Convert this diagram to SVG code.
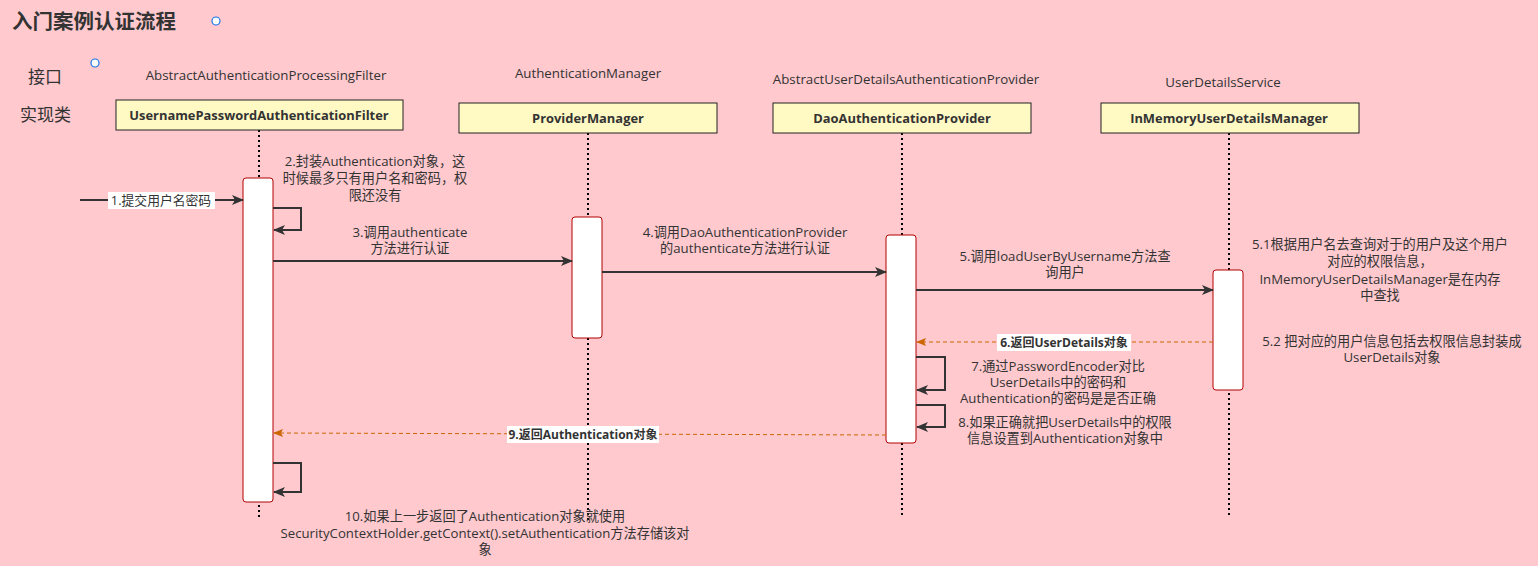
<svg xmlns="http://www.w3.org/2000/svg" width="1538" height="566" viewBox="0 0 1538 566">
<defs>
<marker id="ah" viewBox="0 0 12 10" refX="11" refY="5" markerWidth="12" markerHeight="10" markerUnits="userSpaceOnUse" orient="auto">
<path d="M0,0 L12,5 L0,10 L3,5 Z" fill="#333"/>
</marker>
<marker id="ahr" viewBox="0 0 10 8" refX="9" refY="4" markerWidth="10" markerHeight="8" markerUnits="userSpaceOnUse" orient="auto">
<path d="M0,0 L10,4 L0,8 L2,4 Z" fill="#cc6600"/>
</marker>
</defs>
<style>
text{font-family:"Open Sans","Noto Sans CJK SC",sans-serif;fill:#333}
.t{font-size:13.2px;text-anchor:middle}
.h{font-size:13.3px;text-anchor:middle}
.b{font-size:12.9px;font-weight:bold;text-anchor:middle}
.box{fill:#fff9c4;stroke:#222;stroke-width:1}
.life{stroke:#000;stroke-width:2;stroke-dasharray:2 3;fill:none}
.act{fill:#fff;stroke:#b20000;stroke-width:1}
.msg{stroke:#333;stroke-width:2;fill:none;marker-end:url(#ah)}
.ret{stroke:#cc6600;stroke-width:1;stroke-dasharray:4 3;fill:none;marker-end:url(#ahr)}
.lbg{fill:#fff}
</style>
<rect width="1538" height="566" fill="#ffc9ce"/>
<text x="12" y="29" style="font-size:20.5px;font-weight:bold">入门案例认证流程</text>
<circle cx="216" cy="21" r="4" fill="#fff" stroke="#1a73e8" stroke-width="1.2"/>
<circle cx="95" cy="63" r="4" fill="#fff" stroke="#1a73e8" stroke-width="1.2"/>
<text x="28" y="83" style="font-size:17px">接口</text>
<text x="20" y="121" style="font-size:17px">实现类</text>

<g id="lifelines">
<line class="life" x1="259" y1="130" x2="259" y2="520"/>
<line class="life" x1="588" y1="133" x2="588" y2="520"/>
<line class="life" x1="902" y1="133" x2="902" y2="518"/>
<line class="life" x1="1229" y1="133" x2="1229" y2="518"/>
</g>

<g id="n1">
<text class="h" x="266" y="80">AbstractAuthenticationProcessingFilter</text>
<rect class="box" x="116" y="100" width="287" height="30"/>
<text class="b" x="259" y="120">UsernamePasswordAuthenticationFilter</text>
<rect class="act" x="243" y="178" width="30" height="324" rx="3"/>
</g>
<g id="n2">
<text class="h" x="588" y="78">AuthenticationManager</text>
<rect class="box" x="459" y="103" width="258" height="30"/>
<text class="b" x="588" y="123">ProviderManager</text>
<rect class="act" x="572" y="217" width="30" height="121" rx="3"/>
</g>
<g id="n3">
<text class="h" x="906" y="84">AbstractUserDetailsAuthenticationProvider</text>
<rect class="box" x="773" y="103" width="258" height="30"/>
<text class="b" x="902" y="123">DaoAuthenticationProvider</text>
<rect class="act" x="886" y="235" width="30" height="208" rx="3"/>
</g>
<g id="n4">
<text class="h" x="1223" y="87">UserDetailsService</text>
<rect class="box" x="1101" y="103" width="258" height="30"/>
<text class="b" x="1229" y="123">InMemoryUserDetailsManager</text>
<rect class="act" x="1213" y="270" width="30" height="120" rx="3"/>
</g>

<g id="connectors">
<line class="msg" x1="80" y1="200" x2="243" y2="200"/>
<rect class="lbg" x="108" y="192" width="107" height="17"/>
<text class="t" x="161" y="205" style="font-size:12.8px">1.提交用户名密码</text>

<path class="msg" d="M273,208 H301 V230 H274"/>
<text class="t" x="375" y="166">2.封装Authentication对象，这</text>
<text class="t" x="375" y="183">时候最多只有用户名和密码，权</text>
<text class="t" x="375" y="200">限还没有</text>

<line class="msg" x1="273" y1="261" x2="572" y2="261"/>
<text class="t" x="410" y="237">3.调用authenticate</text>
<text class="t" x="410" y="253">方法进行认证</text>

<line class="msg" x1="602" y1="272" x2="886" y2="272"/>
<text class="t" x="745" y="237">4.调用DaoAuthenticationProvider</text>
<text class="t" x="745" y="253">的authenticate方法进行认证</text>

<line class="msg" x1="916" y1="290" x2="1213" y2="290"/>
<text class="t" x="1065" y="261">5.调用loadUserByUsername方法查</text>
<text class="t" x="1065" y="277">询用户</text>

<line class="ret" x1="1213" y1="342" x2="917" y2="342"/>
<rect class="lbg" x="997" y="334" width="134" height="17"/>
<text class="b" x="1064" y="347" style="font-size:12px">6.返回UserDetails对象</text>

<path class="msg" d="M916,357 H945 V390 H917"/>
<text class="t" x="1058" y="371">7.通过PasswordEncoder对比</text>
<text class="t" x="1058" y="387">UserDetails中的密码和</text>
<text class="t" x="1058" y="403">Authentication的密码是是否正确</text>

<path class="msg" d="M916,405 H945 V427 H917"/>
<text class="t" x="1065" y="427">8.如果正确就把UserDetails中的权限</text>
<text class="t" x="1065" y="443">信息设置到Authentication对象中</text>

<line class="ret" x1="886" y1="435" x2="274" y2="433"/>
<rect class="lbg" x="507" y="426" width="152" height="17"/>
<text class="b" x="583" y="439" style="font-size:12px">9.返回Authentication对象</text>

<path class="msg" d="M273,463 H301 V492 H274"/>
<text class="t" x="485" y="521">10.如果上一步返回了Authentication对象就使用</text>
<text class="t" x="485" y="538">SecurityContextHolder.getContext().setAuthentication方法存储该对</text>
<text class="t" x="485" y="554">象</text>
</g>

<g id="notes">
<text class="t" x="1380" y="249">5.1根据用户名去查询对于的用户及这个用户</text>
<text class="t" x="1380" y="266">对应的权限信息，</text>
<text class="t" x="1380" y="284">InMemoryUserDetailsManager是在内存</text>
<text class="t" x="1380" y="300">中查找</text>
<text class="t" x="1392" y="346">5.2 把对应的用户信息包括去权限信息封装成</text>
<text class="t" x="1392" y="362">UserDetails对象</text>
</g>
</svg>
